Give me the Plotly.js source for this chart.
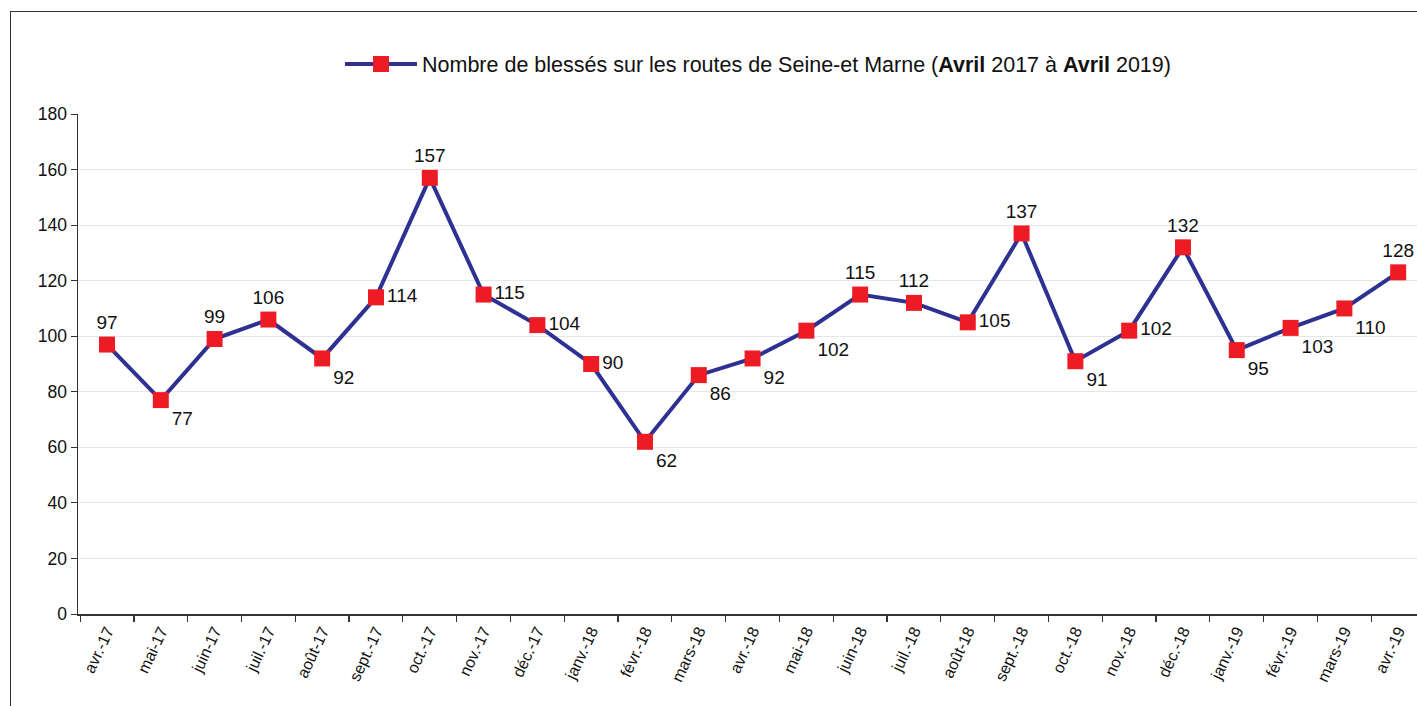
<!DOCTYPE html>
<html>
<head>
<meta charset="utf-8">
<script src="https://cdn.plot.ly/plotly-3.0.1.min.js"></script>
<style>
html,body{margin:0;padding:0;background:#fff;overflow:hidden;}
#chart{position:absolute;left:0;top:0;width:1417px;height:706px;}
#frame{position:absolute;left:10px;top:11px;width:1420px;height:720px;border-left:1.5px solid #333;border-top:1.5px solid #333;pointer-events:none;}
</style>
</head>
<body>
<div id="chart"></div>
<div id="frame"></div>
<script>
const months = ["avr.-17","mai-17","juin-17","juil.-17","août-17","sept.-17","oct.-17","nov.-17","déc.-17","janv.-18","févr.-18","mars-18","avr.-18","mai-18","juin-18","juil.-18","août-18","sept.-18","oct.-18","nov.-18","déc.-18","janv.-19","févr.-19","mars-19","avr.-19"];
const values = [97,77,99,106,92,114,157,115,104,90,62,86,92,102,115,112,105,137,91,102,132,95,103,110,123];
const labels = ["97","77","99","106","92","114","157","115","104","90","62","86","92","102","115","112","105","137","91","102","132","95","103","110","128"];
const labelPos = ["top center","bottom right","top center","top center","bottom right","middle right","top center","middle right","middle right","middle right","bottom right","bottom right","bottom right","bottom right","top center","top center","middle right","top center","bottom right","middle right","top center","bottom right","bottom right","bottom right","top center"];
const seriesName = "Nombre de blessés sur les routes de Seine-et Marne (<b>Avril</b> 2017 à <b>Avril</b> 2019)";

const trace = {
  x: months.map((m,i)=>i),
  y: values,
  type: "scatter",
  mode: "lines+markers+text",
  name: seriesName,
  line: {color: "#2e3192", width: 4},
  marker: {symbol: "square", size: 16, color: "#ed1c24"},
  text: labels,
  textposition: labelPos,
  textfont: {family: "Liberation Sans, Arial, sans-serif", size: 19, color: "#111"},
  cliponaxis: false
};

const layout = {
  width: 1417, height: 706,
  margin: {l: 78, r: 0, t: 114, b: 92},
  paper_bgcolor: "#fff", plot_bgcolor: "#fff",
  font: {family: "Liberation Sans, Arial, sans-serif", color: "#111"},
  showlegend: true,
  legend: {orientation: "h", x: (340-78)/(1417-78), xanchor: "left", y: 1.1, yanchor: "middle",
           font: {size: 21.5, color: "#111"}, itemwidth: 72, bgcolor: "rgba(0,0,0,0)"},
  xaxis: {
    range: [-0.539, 24.35],
    tickmode: "array",
    tickvals: months.map((m,i)=>i),
    ticktext: months,
    tickangle: -65,
    tickfont: {size: 16, color: "#111"},
    showgrid: false, zeroline: false,
    showline: true, linecolor: "#333", linewidth: 1.5,
    ticks: "", ticklen: 6,
    minor: {tick0: 0.5, dtick: 1, ticks: "outside", ticklen: 6, tickcolor: "#333", tickwidth: 1.2, showgrid: false}
  },
  yaxis: {
    range: [0, 180], dtick: 20, tick0: 0,
    tickfont: {size: 17.5, color: "#111"},
    showgrid: true, gridcolor: "#e6e6e6", gridwidth: 1,
    zeroline: false,
    showline: true, linecolor: "#333", linewidth: 1.5,
    ticks: "outside", ticklen: 6, tickcolor: "#333"
  }
};

Plotly.newPlot("chart", [trace], layout, {displayModeBar: false, staticPlot: true});
</script>
</body>
</html>
